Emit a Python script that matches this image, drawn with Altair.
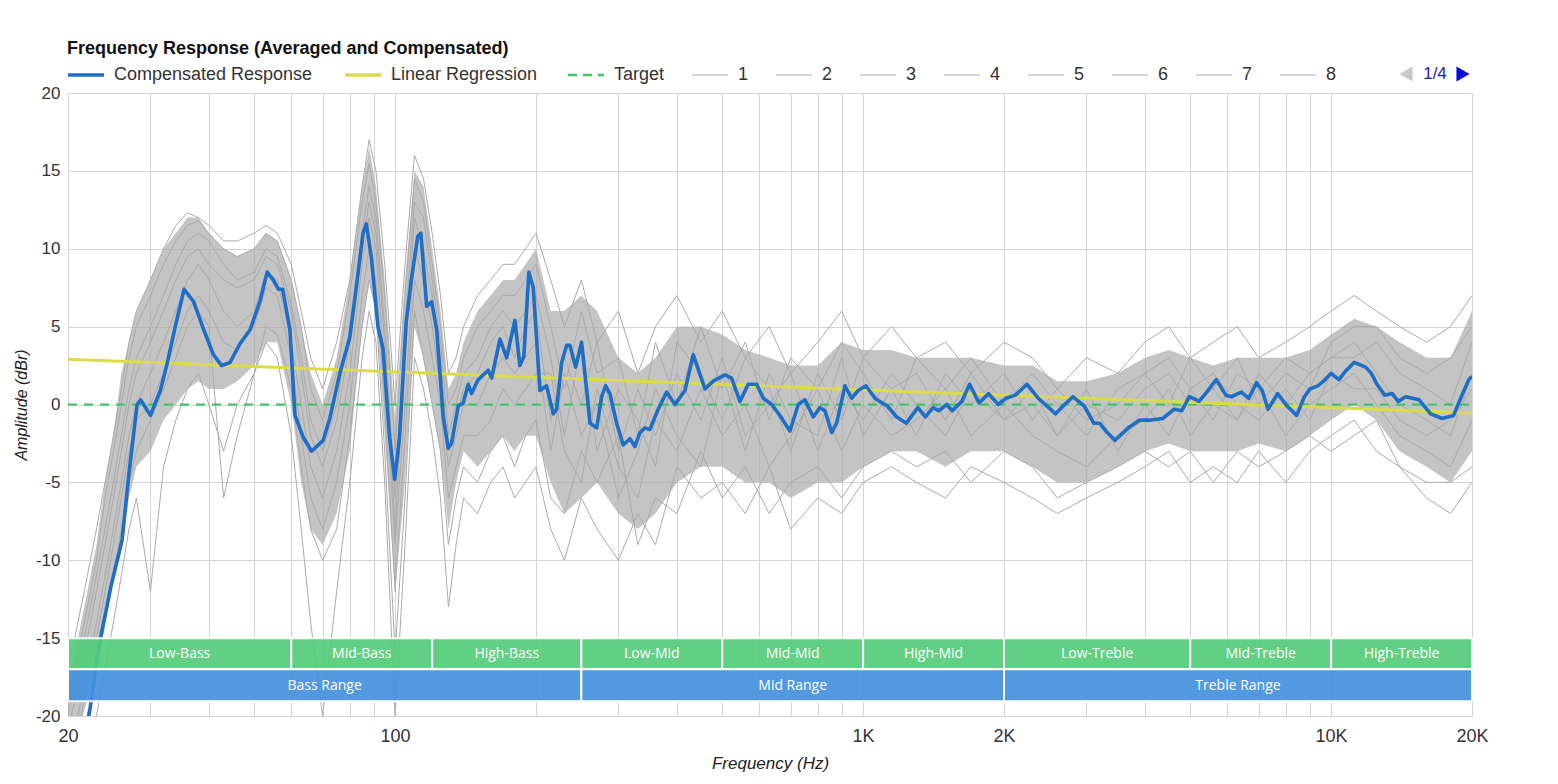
import altair as alt
import pandas as pd

# ---------------- data ----------------
CR_FREQ = [20.8, 21.5, 22.3, 23.0, 23.5, 24.7, 26.1, 27.0, 28.1, 28.6, 30.0, 31.5, 32.5, 33.9, 35.4, 37.1, 39.0, 40.9,
           42.6, 44.4, 46.6, 49.0, 51.4, 53.3, 54.9, 56.3, 57.5, 59.6, 61.1, 63.6, 66.3, 70.2, 72.5, 76.2, 80.0, 82.6,
           85.4, 86.8, 89.0, 91.9, 94.2, 97.3, 99.8, 102.2, 105.6, 108.3, 111.8, 113.5, 116.8, 119.7, 122.7, 126.7,
           129.9, 132.0, 136.4, 139.8, 143.3, 145.7, 150.5, 158.1, 160.8, 167.5, 173.1, 180.3, 184.7, 188.4, 193.1,
           197.3, 203.9, 210.7, 217.7, 221.4, 226.9, 232.6, 236.3, 243, 250.3, 256.6, 260.8, 269.6, 276.2, 281.7,
           287.7, 297.4, 307.2, 317.5, 325.4, 333.5, 341.8, 350.3, 364.9, 380.3, 396.2, 416.2, 433.5, 459.2, 478.3,
           506.6, 523.6, 545.5, 568.2, 592.2, 611.8, 637.6, 664.1, 697.7, 726.7, 751, 782.4, 808.6, 828.7, 856.5,
           877.9, 914.5, 945, 976.1, 1014, 1060, 1084, 1126, 1180, 1237, 1309, 1359, 1411, 1451, 1508, 1550, 1625,
           1688, 1769, 1854, 1944, 2018, 2116, 2239, 2368, 2578, 2677, 2806, 2969, 3111, 3201, 3323, 3451, 3687,
           3902, 4126, 4367, 4621, 4797, 4982, 5224, 5423, 5684, 5957, 6130, 6427, 6671, 6928, 7125, 7331, 7683,
           8054, 8444, 8764, 9018, 9363, 9634, 10000, 10390, 10780, 11200, 11850, 12190, 12530, 13020, 13510,
           13910, 14430, 15420, 16320, 17270, 18270, 18970, 19700, 20000]
CR_DB = [-24, -22, -19.5, -16.5, -14.9, -11.7, -8.7, -4.4, 0, 0.3, -0.7, 0.9, 2.5, 5.0, 7.4, 6.6, 4.8, 3.2,
         2.5, 2.7, 3.9, 4.8, 6.6, 8.5, 8.0, 7.4, 7.4, 4.8, -0.7, -2.1, -3.0, -2.3, -0.9, 2.0, 4.3, 7.5,
         11.0, 11.6, 9.4, 5.0, 3.6, -2.1, -4.8, -2.1, 5.3, 8.0, 10.8, 11.0, 6.3, 6.6, 4.8, -0.8,
         -2.8, -2.5, -0.1, 0.1, 1.3, 0.7, 1.6, 2.2, 1.7, 4.2, 3.0, 5.4, 2.5, 3.1, 8.5,
         7.5, 0.9, 1.2, -0.6, -0.3, 2.7, 3.8, 3.8, 2.4, 4.0, 0.9, -1.2, -1.5, 0.5, 1.2,
         0.7, -1.2, -2.6, -2.2, -2.7, -1.8, -1.5, -1.6, -0.3, 0.8, 0, 0.9, 3.2, 1.0, 1.5,
         1.9, 1.7, 0.2, 1.3, 1.3, 0.4, 0, -0.7, -1.7, 0, 0.3, -0.8, -0.2, -0.4, -1.8,
         -1.2, 1.2, 0.4, 0.9, 1.2, 0.4, 0.2, -0.1, -0.8, -1.2, -0.2, -0.8, -0.2, -0.4, 0, -0.4, 0.2,
         1.3, 0.1, 0.7, 0, 0.4, 0.6, 1.3, 0.4, -0.6, -0.1, 0.5, -0.1, -1.2, -1.2, -1.8, -2.3, -1.5,
         -1.0, -1.0, -0.9, -0.3, -0.4, 0.5, 0.2, 0.8, 1.6, 0.6, 0.5, 0.8, 0.4, 1.4, 0.9, -0.3, 0.7,
         -0.1, -0.7, 0.5, 1.0, 1.2, 1.5, 2.0, 1.6, 2.2, 2.7, 2.4, 2.0, 1.3, 0.6, 0.7,
         0.2, 0.5, 0.3, -0.6, -0.9, -0.7, 0.5, 1.6, 1.8]

REG_FREQ = [20, 20000]
REG_DB = [2.9, -0.55]

TARGET_FREQ = [20, 20000]
TARGET_DB = [0, 0]

GRAY_FREQ = [20, 21, 22, 23, 24, 25, 26, 27, 28, 30, 32, 34, 36, 38, 40, 43, 46, 50, 53, 56, 60, 63, 66, 70, 75,
             80, 85, 88, 91, 95, 100, 105, 110, 115, 120, 125, 130, 135, 140, 150, 160, 170, 180, 190, 200,
             215, 230, 250, 270, 300, 330, 360, 400, 450, 500, 560, 630, 700, 800, 900, 1000, 1150, 1300, 1500,
             1700, 2000, 2300, 2600, 3000, 3500, 4000, 4500, 5000, 5600, 6300, 7000, 8000, 9000, 10000, 11200,
             12500, 14000, 16000, 18000, 20000]
CORE_LO = [-22, -21, -19, -16, -13, -11, -9, -6, -4, -3, -1, 0, 1, 1.5, 1, 1, 1.5, 2.5, 4, 4, 0, -5, -8, -9, -7,
           -3, 5, 8, 6, -2, -12, -5, 5, 3, 0, -3, -8, -5, -3, -4, -3, -2, -3, -2, -2,
           -5, -7, -6, -5, -7, -8, -7, -5, -4, -4, -5, -5, -6, -5, -5, -4, -3, -3, -4, -3, -3, -4, -5, -5, -4,
           -3, -2.5, -3, -3, -3, -2.5, -3, -2, -1, 0, -1, -3, -4, -5, -3]
CORE_HI = [-18, -15, -12, -9, -5, -2, 2, 4, 6, 8, 10, 11, 12, 12, 11, 10, 9.5, 10, 11, 10.5, 8, 5, 2, 0, 3,
           8, 14, 16.5, 14, 8, -1, 8, 15, 14, 10, 6, 1, 2, 4, 6, 7, 8, 8, 9, 10,
           6, 6, 7, 6, 3, 2, 3, 5, 5, 4.5, 3.5, 3, 2.5, 2.5, 4, 3.5, 3.5, 3, 3, 3, 2.5, 2.5, 1.5, 1.5, 2,
           3, 3.5, 3, 2.5, 3, 3, 3, 3.5, 4.5, 5.5, 5, 4, 3, 3, 6]

G1 = [-17, -14, -11, -8, -5, -2, 1, 4, 6, 8, 10, 11.5, 12.3, 12, 11.5, 10.5, 10.5, 11, 11.5, 11, 9, 6, 3, 1, 4,
      8, 14, 17, 15, 9, 0, 9, 16, 14.5, 11, 7, 2, 3, 5, 7, 8, 9, 9, 10, 11,
      8, 5, 8, 4, 6, 2, 5, 7, 4, 6, 3, 5, 2, 4, 6, 3, 5, 3, 4, 2, 4, 3, 1, 3, 2, 4, 5, 3, 4, 5, 3, 4, 5, 6, 7,
      6, 5, 4, 5, 7]
G2 = [-25, -24, -22, -20, -17, -14, -11, -8, -6, -12, -4, -1, 1, 2, 0, -3, 0, 2, 4, 3, -2, -8, -14, -20, -12,
      -5, 3, 6, 4, -5, -20, -9, 3, 1, -2, -6, -13, -9, -6, -7, -5, -4, -6, -5, -4,
      -8, -10, -6, -8, -10, -7, -9, -4, -6, -5, -7, -4, -8, -6, -7, -5, -4, -5, -6, -4, -5, -6, -7, -6, -5,
      -4, -3, -5, -4, -5, -3, -5, -3, -2, -1, -3, -4, -6, -7, -5]
G3 = [-21, -18, -15, -12, -9, -6, -3, 0, 2, 4, 6, 8, 9.5, 10, 9, 8, 7.5, 8, 9.5, 9, 6, 2, -2, -4, -1,
      4, 10, 13, 11, 4, -8, 3, 12, 10, 7, 3, -3, -1, 1, 2, 4, 5, 3, 5, 6,
      -1, 3, 0, 4, -3, 1, -2, 2, -1, 3, -2, 0, 2, -3, 1, -1, 2, 0, -2, 1, -1, 1, -2, 0, -1, 1, 2, 0, 1, -1,
      2, 0, 2, 3, 4, 2, 0, -1, -2, 2]
G4 = [-19, -16, -13, -10, -6, -3, 0, 3, 5, 7, 9, 10.5, 11.5, 11.8, 11, 10, 9.5, 10, 11, 10.5, 8, 5, 1, -1, 2,
      7, 13, 15.5, 13, 7, -3, 7, 14.5, 13, 9, 5, 0, 1, 3, 5, 6, 7, 7, 8, 9,
      5, 1, 6, 2, 3, -2, 4, 0, 5, 1, 4, -1, 3, 1, 4, 2, -1, 3, 1, 3, 0, 2, 0, -2, 1, 2, 0, 3, 1, 3,
      0, 2, 1, 4, 5, 5, 3, 2, 3, 5]
G5 = [-23, -21, -18, -15, -12, -9, -6, -3, -1, 0, 2, 4, 6, 7, 6, 4, 3.5, 5, 7.5, 7, 3, -2, -6, -8, -5,
      0, 7, 10, 8, 0, -12, -2, 8, 6, 3, 0, -6, -4, -2, -2, -1, 1, 0, 1, 2,
      2, -3, -5, 1, -4, -6, -1, -3, 1, -2, 0, -4, -2, 1, -3, 0, -2, -1, 1, -2, 0, -2, -3, -4, -2, -1, 1, -2,
      0, -1, 1, -2, 0, 1, 2, 0, -2, -3, -4, -1]
G6 = [-20, -17, -14, -11, -8, -5, -2, 1, 3, 5, 7, 9, 10.5, 11, 10.5, 9, 8, 8.5, 10, 9.5, 6.5, 3, -1, -3, 0,
      5, 11, 14, 12, 5, -6, 5, 13, 12, 8, 4, -2, 0, 2, 3, 5, 6, 5, 6, 7,
      3, -2, 4, -3, 1, -1, -4, 4, 2, -1, 3, 1, -3, 2, -1, 3, 1, -2, 2, 0, 2, -1, 1, -1, 0, 2, 3, 1, -1, 2,
      1, 3, 2, 3, 3, 4, 2, 1, 0, 4]
G7 = [-22, -20, -17, -14, -11, -8, -5, -2, 0, 2, 4, 6, 8, 9, 8, 6, 5, 6, 8.5, 8, 4, 0, -4, -6, -3,
      2, 9, 12, 10, 2, -9, 0, 10, 8, 5, 1, -4, -2, 0, 0, 2, 3, 2, 3, 4,
      -3, 2, -2, 0, -6, -3, 1, -2, -4, 2, -3, 2, -1, -2, 3, -2, 1, 2, -1, 2, -1, 0, -2, 1, -3, 0, -2, 1, 2, 0,
      -1, 1, -1, 2, 1, 1, -1, -2, -1, 1]
G8 = [-24, -22, -20, -17, -14, -11, -8, -5, -3, -1, 1, 3, 5, 6, 5, -6, -2, 2, 5, 4.5, 1, -4, -8, -10, -8,
      -2, 5, 8, 6, -3, -16, -6, 6, 3, 0, -3, -9, -6, -4, -5, -3, -2, -4, -2, -1,
      -6, -7, -3, -5, -2, -9, -6, -7, -3, -6, -4, -7, -5, -4, -6, -4, -3, -4, -3, -5, -3, -4, -6, -5, -4,
      -3, -4, -3, -5, -3, -4, -3, -2, -3, -2, -1, -4, -5, -5, -4]
GRAY_NAMES = ["1", "2", "3", "4", "5", "6", "7", "8"]
GRAY_VALUES = [G1, G2, G3, G4, G5, G6, G7, G8]

BAND_NAMES = ["Low-Bass", "Mid-Bass", "High-Bass", "Low-Mid", "Mid-Mid", "High-Mid", "Low-Treble", "Mid-Treble",
              "High-Treble"]
BAND_LO = [20, 60, 120, 250, 500, 1000, 2000, 5000, 10000]
BAND_HI = [60, 120, 250, 500, 1000, 2000, 5000, 10000, 20000]
RANGE_NAMES = ["Bass Range", "Mid Range", "Treble Range"]
RANGE_LO = [20, 250, 2000]
RANGE_HI = [250, 2000, 20000]

SERIES = ["Compensated Response", "Linear Regression", "Target"] + GRAY_NAMES
SERIES_COLORS = ["#1f6ec6", "#dcdc48", "#3cc462"] + ["#aaaaaa"] * 8

X_GRID = [20, 30, 40, 50, 60, 70, 80, 90, 100, 200, 300, 400, 500, 600, 700, 800, 900, 1000, 2000, 3000, 4000,
          5000, 6000, 7000, 8000, 9000, 10000, 20000]
X_LABEL_VALUES = [20, 100, 1000, 2000, 10000, 20000]
X_LABEL_TEXT = ["20", "100", "1K", "2K", "10K", "20K"]
Y_TICKS = [-20, -15, -10, -5, 0, 5, 10, 15, 20]

for g in GRAY_VALUES + [CORE_LO, CORE_HI]:
    assert len(g) == len(GRAY_FREQ), len(g)
assert len(CR_FREQ) == len(CR_DB), (len(CR_FREQ), len(CR_DB))

# ---------------- tables ----------------
cr_df = pd.DataFrame({"freq": CR_FREQ, "db": CR_DB, "series": "Compensated Response"})
reg_df = pd.DataFrame({"freq": REG_FREQ, "db": REG_DB, "series": "Linear Regression"})
tgt_df = pd.DataFrame({"freq": TARGET_FREQ, "db": TARGET_DB, "series": "Target"})
gray_df = pd.concat([pd.DataFrame({"freq": GRAY_FREQ, "db": v, "series": n})
                     for n, v in zip(GRAY_NAMES, GRAY_VALUES)], ignore_index=True)
core_df = pd.DataFrame({"freq": GRAY_FREQ, "lo": CORE_LO, "hi": CORE_HI})
band_df = pd.DataFrame({"name": BAND_NAMES, "lo": BAND_LO, "hi": BAND_HI})
range_df = pd.DataFrame({"name": RANGE_NAMES, "lo": RANGE_LO, "hi": RANGE_HI})

FONT = "Liberation Sans"
label_expr = " : ".join(f"datum.value == {v} ? '{t}'" for v, t in zip(X_LABEL_VALUES, X_LABEL_TEXT)) + " : ''"

xs = alt.Scale(type="log", domain=[20, 20000], nice=False)
ys = alt.Scale(domain=[-20, 20], nice=False, zero=False)
x_axis = alt.Axis(values=X_GRID, labelExpr=label_expr, grid=True, gridColor="#d4d4d4", ticks=False, domain=False,
                  labelFont=FONT, labelFontSize=18, labelColor="#333", labelPadding=11, labelOverlap=False,
                  labelFlush=False, title="Frequency (Hz)", titleFont=FONT, titleFontSize=17,
                  titleFontStyle="italic", titleFontWeight="normal", titleColor="#222", titlePadding=10)
y_axis = alt.Axis(values=Y_TICKS, labelExpr="toString(datum.value)", grid=True, gridColor="#d4d4d4", ticks=False,
                  domain=False, labelFont=FONT, labelFontSize=17, labelColor="#333", labelPadding=8,
                  title="Amplitude (dBr)", titleFont=FONT, titleFontSize=16, titleFontStyle="italic",
                  titleFontWeight="normal", titleColor="#222", titlePadding=6)

legend = alt.Legend(
    title="Frequency Response (Averaged and Compensated)", orient="none", legendX=-1, legendY=-53,
    direction="horizontal", symbolType="stroke", symbolSize=1296, symbolOffset=10,
    symbolStrokeWidth=alt.ExprRef(expr="datum.value == 'Compensated Response' || datum.value == 'Linear Regression' ? 3.5 : (datum.value == 'Target' ? 2.5 : 1)"),
    symbolDash=alt.ExprRef(expr="datum.value == 'Target' ? [9, 6] : [1, 0]"),
    labelFont=FONT, labelFontSize=18, labelColor="#333", labelOffset=19, labelLimit=0, columnPadding=25,
    titleFont=FONT, titleFontSize=18, titleFontWeight="bold", titleColor="#111", titlePadding=8, titleLimit=0,
    padding=0, symbolOpacity=1,
)
color = alt.Color("series:N", scale=alt.Scale(domain=SERIES, range=SERIES_COLORS), legend=legend)


def X(field):
    return alt.X(f"{field}:Q", scale=xs, axis=x_axis)


def Y(field):
    return alt.Y(f"{field}:Q", scale=ys, axis=y_axis)


core = alt.Chart(core_df).mark_area(color="#ababab", opacity=0.7, clip=True).encode(
    x=X("freq"), y=Y("lo"), y2="hi")
gray = alt.Chart(gray_df).mark_line(clip=True).encode(
    x=X("freq"), y=Y("db"), color=color, strokeWidth=alt.value(1))
target = alt.Chart(tgt_df).mark_line(clip=True).encode(
    x=X("freq"), y=Y("db"), color=color, strokeWidth=alt.value(2), strokeDash=alt.value([9, 7]))
reg = alt.Chart(reg_df).mark_line(clip=True).encode(
    x=X("freq"), y=Y("db"), color=color, strokeWidth=alt.value(3))
cr = alt.Chart(cr_df).mark_line(clip=True, strokeJoin="round").encode(
    x=X("freq"), y=Y("db"), color=color, strokeWidth=alt.value(3.6))

bands = alt.Chart(band_df).mark_rect(fill="#55cd7a", stroke="white", strokeWidth=2, opacity=0.92).encode(
    x=X("lo"), x2="hi", y=alt.datum(-15, scale=ys), y2=alt.datum(-17))
bands_txt = alt.Chart(band_df).transform_calculate(mid="sqrt(datum.lo * datum.hi)").mark_text(
    font="Open Sans", fontSize=14, color="white", baseline="middle").encode(
    x=X("mid"), y=alt.datum(-16, scale=ys), text="name:N")
ranges = alt.Chart(range_df).mark_rect(fill="#4591e0", stroke="white", strokeWidth=2, opacity=0.92).encode(
    x=X("lo"), x2="hi", y=alt.datum(-17, scale=ys), y2=alt.datum(-19.05))
ranges_txt = alt.Chart(range_df).transform_calculate(mid="sqrt(datum.lo * datum.hi)").mark_text(
    font="Open Sans", fontSize=14, color="white", baseline="middle").encode(
    x=X("mid"), y=alt.datum(-18.05, scale=ys), text="name:N")

# legend pager decoration (top right)
pager_df = pd.DataFrame({"t": ["1/4"]})
pager_left = alt.Chart(pager_df).mark_point(shape="triangle-left", filled=True, size=230, color="#c8c8c8",
                                            opacity=1).encode(x=alt.value(1338), y=alt.value(-19))
pager_text = alt.Chart(pager_df).mark_text(font=FONT, fontSize=17, color="#2323a8").encode(
    x=alt.value(1367), y=alt.value(-19), text="t:N")
pager_right = alt.Chart(pager_df).mark_point(shape="triangle-right", filled=True, size=230, color="#0a0ad8",
                                             opacity=1).encode(x=alt.value(1395), y=alt.value(-19))

chart = alt.layer(core, gray, target, reg, cr, bands, ranges, bands_txt, ranges_txt,
                  pager_left, pager_text, pager_right).properties(
    width=1404, height=623, padding={"left": 5, "top": 32, "right": 10, "bottom": 5}
).configure_view(stroke=None).configure(background="white")

chart.save("out.html", embed_options={"renderer": "svg", "actions": False})
